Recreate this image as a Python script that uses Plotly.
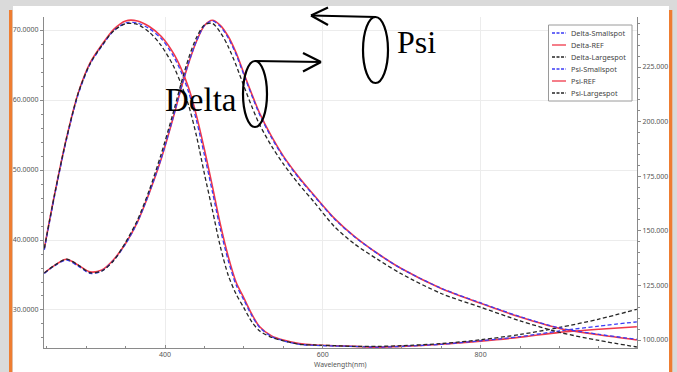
import plotly.graph_objects as go

# ---------------- data ----------------
wavelength = [247, 260, 275, 290, 305, 320, 335, 350, 365, 380, 395, 410, 420, 430,
              440, 450, 460, 470, 480, 490, 500, 510, 520, 535, 550, 570, 590, 615,
              640, 670, 700, 750, 800, 850, 900, 950, 998]

delta_ref = [130.7, 134.2, 137.0, 134.3, 131.2, 132.1, 136.9, 144.2, 154.0, 167.3,
             182.8, 201.3, 214.7, 226.8, 236.9, 244.0, 246.4, 244.1, 239.1, 231.6,
             222.0, 212.6, 203.8, 193.2, 184.2, 174.4, 165.8, 155.6, 147.5, 139.5,
             132.6, 123.6, 116.8, 110.5, 105.3, 102.4, 100.0]
delta_small = [130.5, 134.0, 136.6, 133.8, 130.5, 131.6, 136.5, 144.0, 153.9, 167.4,
               183.0, 201.6, 215.0, 227.1, 237.0, 244.0, 246.1, 243.6, 238.4, 230.8,
               221.3, 211.9, 203.1, 192.6, 183.7, 174.0, 165.5, 155.3, 147.3, 139.4,
               132.6, 123.7, 117.0, 110.7, 105.5, 102.6, 100.3]
delta_large = [130.7, 134.2, 137.0, 134.3, 130.8, 131.6, 136.4, 144.7, 154.9, 168.6,
               185.0, 203.6, 217.0, 229.2, 238.6, 244.3, 245.0, 240.9, 234.4, 225.9,
               216.2, 206.9, 198.5, 188.8, 180.6, 171.2, 162.7, 151.8, 144.0, 136.8,
               130.2, 121.3, 115.0, 108.8, 103.5, 99.8, 96.8]

psi_ref = [38.8, 46.5, 54.5, 61.0, 65.3, 67.9, 70.1, 71.3, 71.3, 70.5, 69.1, 66.8,
           64.6, 61.7, 57.7, 52.9, 47.7, 42.3, 37.7, 34.0, 31.7, 29.4, 27.6, 26.3,
           25.7, 25.2, 25.0, 24.9, 24.8, 24.7, 24.8, 25.1, 25.55, 26.1, 26.8, 27.25, 27.6]
psi_small = [38.6, 46.3, 54.3, 60.8, 65.1, 67.7, 69.9, 71.0, 71.0, 70.2, 68.8, 66.4,
             64.1, 61.1, 57.0, 52.1, 46.9, 41.6, 37.1, 33.6, 31.4, 29.2, 27.5, 26.2,
             25.6, 25.1, 24.95, 24.85, 24.8, 24.7, 24.8, 25.1, 25.6, 26.2, 27.0, 27.7, 28.3]
psi_large = [38.8, 46.5, 54.5, 61.0, 65.2, 67.8, 69.9, 70.9, 70.8, 69.7, 67.8, 65.0,
             62.4, 59.2, 54.8, 49.4, 44.3, 39.1, 35.0, 32.3, 30.3, 28.3, 27.0, 26.1,
             25.6, 25.1, 25.0, 24.9, 24.8, 24.8, 24.9, 25.2, 25.75, 26.5, 27.5, 28.7, 30.1]

series_names = ["Delta-Smallspot", "Delta-REF", "Delta-Largespot",
                "Psi-Smallspot", "Psi-REF", "Psi-Largespot"]

x_range = [246.6, 998.2]
psi_range = [24.57, 71.86]
delta_range = [96.34, 247.9]

# ---------------- styling ----------------
RED = "#f0384a"
BLUE = "#3b3bf5"
BLACK = "#262626"
DASH = "4px,2.5px"
AXIS = "#8a8a8a"
GRID = "#ececec"
TICKFONT = dict(family="Noto Sans", size=7, color="#555555")

W, H = 677, 372
L, R, T, B = 44, 637, 17, 348
PW, PH = R - L, B - T


def xp(px):
    return (px - L) / PW


def yp(py):
    return (B - py) / PH


fig = go.Figure()

styles = {
    "Delta-REF": dict(color=RED, width=1.6, dash="solid"),
    "Delta-Smallspot": dict(color=BLUE, width=1.3, dash=DASH),
    "Delta-Largespot": dict(color=BLACK, width=1.3, dash=DASH),
    "Psi-REF": dict(color=RED, width=1.6, dash="solid"),
    "Psi-Smallspot": dict(color=BLUE, width=1.3, dash=DASH),
    "Psi-Largespot": dict(color=BLACK, width=1.3, dash=DASH),
}

traces = [
    ("Delta-REF", delta_ref, "y2"),
    ("Delta-Smallspot", delta_small, "y2"),
    ("Delta-Largespot", delta_large, "y2"),
    ("Psi-REF", psi_ref, "y"),
    ("Psi-Smallspot", psi_small, "y"),
    ("Psi-Largespot", psi_large, "y"),
]
for name, vals, ax in traces:
    st = styles[name]
    fig.add_trace(go.Scatter(
        x=wavelength, y=vals, name=name, yaxis=ax, mode="lines",
        line=dict(color=st["color"], width=st["width"], dash=st["dash"],
                  shape="spline", smoothing=0.8),
        showlegend=False,
    ))

shapes = []
# white panel and orange side bars
shapes.append(dict(type="rect", xref="paper", yref="paper", layer="below",
                   x0=xp(13), x1=xp(669), y0=yp(6), y1=yp(372),
                   fillcolor="white", line=dict(width=0)))
for x0, x1 in [(9, 12.3), (669, 672.3)]:
    shapes.append(dict(type="rect", xref="paper", yref="paper", layer="above",
                       x0=xp(x0), x1=xp(x1), y0=yp(10), y1=yp(372),
                       fillcolor="#ee7d31", line=dict(width=0)))

# legend box
lg_x0, lg_x1, lg_y0, lg_y1 = 548.5, 632, 25, 101
shapes.append(dict(type="rect", xref="paper", yref="paper", layer="above",
                   x0=xp(lg_x0), x1=xp(lg_x1), y0=yp(lg_y1), y1=yp(lg_y0),
                   fillcolor="white", line=dict(color="#9a9a9a", width=1)))
annotations = []
for i, name in enumerate(series_names):
    yy = 33 + i * 12
    st = styles[name]
    shapes.append(dict(type="line", xref="paper", yref="paper", layer="above",
                       x0=xp(552), x1=xp(566), y0=yp(yy), y1=yp(yy),
                       line=dict(color=st["color"], width=1.3,
                                 dash="solid" if st["dash"] == "solid" else "3px,1.5px")))
    annotations.append(dict(x=xp(568.5), y=yp(yy), xref="paper", yref="paper",
                            text=name, showarrow=False, xanchor="left", yanchor="middle",
                            font=dict(family="Noto Sans", size=7.3, color="#444444")))

# Psi / Delta markers: ellipses with arrows pointing to their axis
INK = dict(color="black", width=2.2)
shapes.append(dict(type="circle", xref="paper", yref="paper", layer="above",
                   x0=xp(363), x1=xp(388), y0=yp(83), y1=yp(17), line=INK))
shapes.append(dict(type="circle", xref="paper", yref="paper", layer="above",
                   x0=xp(243), x1=xp(267), y0=yp(127), y1=yp(61), line=INK))
arrow_lines = [
    ((376, 17), (311, 15.5)), ((311, 15.5), (328, 7.5)), ((311, 15.5), (328, 25)),
    ((255, 61), (321, 62)), ((321, 62), (303, 53)), ((321, 62), (303, 71.5)),
]
for (ax0, ay0), (ax1, ay1) in arrow_lines:
    shapes.append(dict(type="line", xref="paper", yref="paper", layer="above",
                       x0=xp(ax0), y0=yp(ay0), x1=xp(ax1), y1=yp(ay1), line=INK))

annotations.append(dict(x=xp(395), y=yp(42), xref="paper", yref="paper", text="Psi",
                        showarrow=False, xanchor="left", yanchor="middle",
                        font=dict(family="Liberation Serif", size=32, color="black")))
annotations.append(dict(x=xp(163), y=yp(100), xref="paper", yref="paper", text="Delta",
                        showarrow=False, xanchor="left", yanchor="middle",
                        font=dict(family="Liberation Serif", size=33, color="black")))
# x-axis title
annotations.append(dict(x=0.5, y=yp(364.5), xref="paper", yref="paper",
                        text="Wavelength(nm)", showarrow=False,
                        xanchor="center", yanchor="middle",
                        font=dict(family="Noto Sans", size=6.8, color="#555555")))

fig.update_layout(
    width=W, height=H,
    margin=dict(l=L, r=W - R, t=T, b=H - B, pad=0, autoexpand=False),
    paper_bgcolor="#dadada",
    plot_bgcolor="white",
    showlegend=False,
    shapes=shapes,
    annotations=annotations,
    xaxis=dict(
        range=x_range, tickvals=[400, 600, 800], showgrid=True, gridcolor=GRID,
        gridwidth=1, zeroline=False, showline=True, linecolor=AXIS, linewidth=1,
        ticks="inside", ticklen=3, tickcolor=AXIS, tickfont=TICKFONT,
        automargin=False,
        minor=dict(dtick=50, tick0=0, ticks="inside", ticklen=2, tickcolor=AXIS,
                   showgrid=False),
    ),
    yaxis=dict(
        range=psi_range, dtick=10, tick0=0, tickformat=".4f", showgrid=True,
        gridcolor=GRID, gridwidth=1, zeroline=False, showline=True, linecolor=AXIS,
        linewidth=1, ticks="outside", ticklen=3, tickcolor=AXIS, tickfont=TICKFONT,
        automargin=False,
        minor=dict(dtick=2, tick0=0, ticks="outside", ticklen=2, tickcolor=AXIS,
                   showgrid=False),
    ),
    yaxis2=dict(
        range=delta_range, dtick=25, tick0=0, tickformat=".3f", overlaying="y",
        side="right", showgrid=False, zeroline=False, showline=True, linecolor=AXIS,
        linewidth=1, ticks="outside", ticklen=3, tickcolor=AXIS, tickfont=TICKFONT,
        automargin=False,
        minor=dict(dtick=5, tick0=0, ticks="outside", ticklen=2, tickcolor=AXIS,
                   showgrid=False),
    ),
)

fig.write_html("out.html")
